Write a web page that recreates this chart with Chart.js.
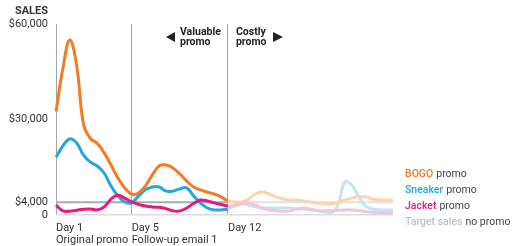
<!DOCTYPE html>
<html><head><meta charset="utf-8">
<script src="https://cdn.jsdelivr.net/npm/chart.js@4"></script>
<style>html,body{margin:0;padding:0;background:#fff}#wrap{width:513px;height:246px;position:relative}</style>
</head><body><div id="wrap"><canvas id="c" width="513" height="246"></canvas></div>
<script>
// time index (evenly spaced samples); Day 1 = 0, Day 5 = 11, Day 12 = 25
const T = [0,1,2,3,4,5,6,7,8,9,10,11,12,13,14,15,16,17,18,19,20,21,22,23,24,25,26,27,28,29,30,31,32,33,34,35,36,37,38,39,40,41,42,43,44,45,46,47,48,49];
const BOGO = [32500,46000,55000,47000,28500,24000,22500,19500,15700,11600,8500,6600,6900,9100,12600,15400,15700,14800,12900,10700,8800,7900,7200,6600,5700,4400,4100,4100,5000,6600,7200,6600,5700,5000,4700,4700,4400,4100,3800,3500,3500,4100,4700,5300,5700,5700,5000,4700,4700,4700];
const SNEAKER = [18200,21700,23900,22600,18800,16600,15400,13200,9100,6000,4100,3800,6000,7900,8800,8800,7500,7500,8200,8500,6000,3800,2200,1600,1600,1900,2800,3500,3100,2500,2200,2200,2200,2200,2200,1900,1900,1600,1300,900,600,3200,10400,9400,5700,2800,1900,1600,1600,1600];
const JACKET = [3100,1300,1200,1500,1800,1900,1600,2500,5000,6200,5300,4100,3300,2800,2500,2400,2000,1300,1300,2200,3600,4700,4400,3800,3300,2800,3000,3600,3800,3100,2200,1600,1300,1200,1300,1900,2200,1900,1400,1300,1400,1500,1600,1600,1400,1100,900,700,700,700];
const TARGET_SALES = 4000;
const Y_TICKS = [0, 4000, 30000, 60000];
const DAY_TICKS = [0, 11, 25];
const DAY_LABELS = [['Day 1','Original promo'],['Day 5','Follow-up email 1'],['Day 12']];
const SERIES_NAMES = ['BOGO','Sneaker','Jacket','Target sales'];
const LEGEND_SUFFIX = ['promo','promo','promo','no promo'];
const NOTE_LEFT = ['Valuable','promo'];
const NOTE_RIGHT = ['Costly','promo'];
const AXIS_TITLE = 'SALES';

const COLORS = ['#f47b20','#22a6df','#e6197c','#a3adb7'];
const FADED = ['#fcd3ad','#c3e4f5','#f6c3da','#dfe3e7'];
const FONT = 'Roboto, "Liberation Sans", Arial, sans-serif';

const pts = arr => T.map((t,i)=>({x:t,y:arr[i]}));
const cut = DAY_TICKS[2];
function ds(label, data, idx, order, width, tension){
  return {label, data, borderColor: COLORS[idx], borderWidth: width, pointRadius:0,
    tension, fill:false, order, clip:false,
    segment:{borderColor: c => c.p0.parsed.x >= cut ? FADED[idx] : COLORS[idx]}};
}

const overlay = {
  id:'overlay',
  afterDraw(chart){
    const ctx = chart.ctx;
    ctx.save();
    ctx.textBaseline='middle';
    ctx.font = 'bold 11px '+FONT; ctx.fillStyle='#333'; ctx.textAlign='right';
    ctx.fillText(AXIS_TITLE, 48, 11);
    const xs = chart.scales.x;
    ctx.font = 'bold 10.5px '+FONT; ctx.textAlign='left'; ctx.fillStyle='#222';
    ctx.fillText(NOTE_LEFT[0], 180, 32); ctx.fillText(NOTE_LEFT[1], 180, 42.5);
    ctx.beginPath(); ctx.moveTo(166,37); ctx.lineTo(175,32); ctx.lineTo(175,42); ctx.closePath(); ctx.fill();
    const xr = xs.getPixelForValue(DAY_TICKS[2]) + 8;
    ctx.fillText(NOTE_RIGHT[0], xr, 32); ctx.fillText(NOTE_RIGHT[1], xr, 42.5);
    ctx.beginPath(); ctx.moveTo(273,32); ctx.lineTo(283,37); ctx.lineTo(273,42); ctx.closePath(); ctx.fill();
    const ly = [174,190,206,222];
    SERIES_NAMES.forEach((n,i)=>{
      ctx.font = '500 10.5px '+FONT; ctx.fillStyle = i===3 ? '#b9c3cc' : COLORS[i];
      ctx.fillText(n, 405, ly[i]);
      const w = ctx.measureText(n).width + 3;
      ctx.font = '10.5px '+FONT; ctx.fillStyle='#444';
      ctx.fillText(LEGEND_SUFFIX[i], 405+w, ly[i]);
    });
    ctx.restore();
  }
};

new Chart(document.getElementById('c'), {
  type:'line',
  data:{datasets:[
    ds('BOGO', pts(BOGO), 0, 2, 3, 0.4),
    ds('Sneaker', pts(SNEAKER), 1, 3, 3, 0.4),
    ds('Jacket', pts(JACKET), 2, 1, 3, 0.4),
    ds('Target sales', [T[0], cut, T[T.length-1]].map(x=>({x, y:TARGET_SALES})), 3, 10, 2, 0)
  ]},
  options:{
    responsive:false, animation:false, devicePixelRatio:1,
    layout:{padding:{top:24,right:120,left:0,bottom:0}},
    plugins:{legend:{display:false},tooltip:{enabled:false}},
    scales:{
      x:{type:'linear',min:0,max:T[T.length-1],
        afterBuildTicks: s => { s.ticks = DAY_TICKS.map(v=>({value:v})); },
        afterFit: s => { s.height = 31; },
        ticks:{autoSkip:false,maxRotation:0,align:'start',padding:7,color:'#333',
          font:{family:FONT,size:11,lineHeight:1.1},
          callback:(v)=>DAY_LABELS[DAY_TICKS.indexOf(v)]},
        grid:{color:'#a5a5a5',lineWidth:1,drawTicks:false},
        border:{display:false}},
      y:{min:0,max:60000,
        afterBuildTicks: s => { s.ticks = Y_TICKS.map(v=>({value:v})); },
        afterFit: s => { s.width = 56; },
        ticks:{padding:8,color:'#333',font:{family:FONT,size:11},
          callback:v => v===0 ? '0' : '$'+v.toLocaleString('en-US')},
        grid:{drawTicks:false,lineWidth:1.5,color:c => c.tick && c.tick.value===0 ? '#dcdcdc' : 'rgba(0,0,0,0)'},
        border:{display:false}}
    }
  },
  plugins:[overlay]
});
</script></body></html>
